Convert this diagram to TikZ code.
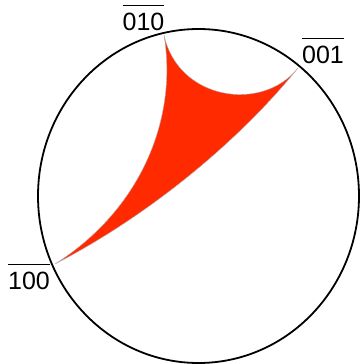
\documentclass[tikz,border=0pt]{standalone}
\usepackage{fontspec}
\setmainfont{Liberation Sans}
\definecolor{zonered}{RGB}{255,42,0}
\newcommand{\ovl}[1]{$\overline{\hbox{\rule{0pt}{0.92em}#1}}$}

\begin{document}
\begin{tikzpicture}[x=1pt,y=-1pt,font=\fontsize{25}{30}\selectfont,
  dirlbl/.style={inner sep=0pt,anchor=base}]
\useasboundingbox (0,0) rectangle (360,364);
% stereographic circle
\draw[line width=1.8pt] (198.5,196) ellipse (160.5 and 167);
% corners of the triangle
\coordinate (p010) at (164,35);
\coordinate (p001) at (298,68);
\coordinate (p100) at (55,264);
\fill[zonered,draw=gray!60,line width=0.4pt] (p010) .. controls (178,100) and (262,113) .. (p001)
  .. controls (240,140) and (150,215) .. (p100) .. controls (140,210) and (178,120) .. cycle;
\node[dirlbl] (l010) at (143.5,30) {\ovl{010}};
\node[dirlbl] (l001) at (323,63) {\ovl{001}};
\node[dirlbl] (l100) at (29,289) {\ovl{100}};
\end{tikzpicture}
\end{document}
